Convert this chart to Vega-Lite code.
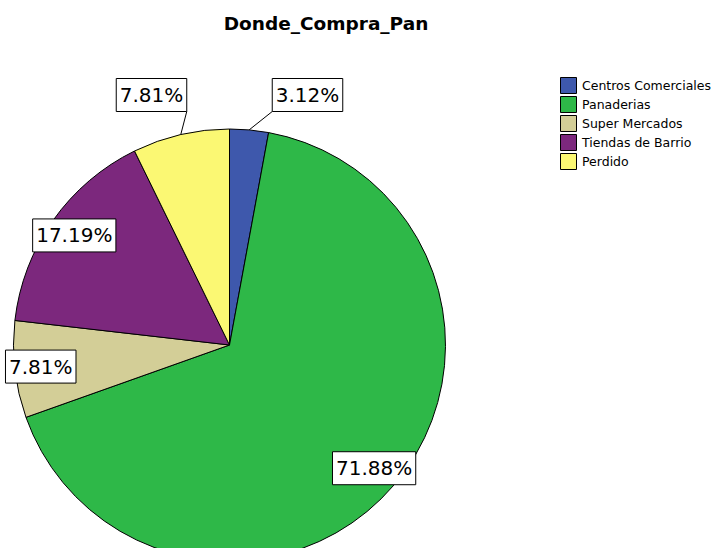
{
  "$schema": "https://vega.github.io/schema/vega-lite/v6.json",
  "width": 717,
  "height": 508,
  "autosize": {"type": "none"},
  "padding": {"top": 40, "left": 0, "right": 0, "bottom": 0},
  "background": "white",
  "title": {
    "text": "Donde_Compra_Pan",
    "font": "DejaVu Sans",
    "fontSize": 18.5,
    "fontWeight": "bold",
    "color": "black",
    "anchor": "middle",
    "frame": "group",
    "dx": -32.5,
    "dy": 18,
    "baseline": "alphabetic",
    "offset": 10
  },
  "config": {
    "view": {"stroke": null},
    "legend": {
      "orient": "none",
      "legendX": 560,
      "legendY": 37,
      "padding": 0,
      "symbolType": "square",
      "symbolSize": 256,
      "symbolStrokeColor": "black",
      "symbolStrokeWidth": 1,
      "symbolOpacity": 1,
      "labelFont": "DejaVu Sans",
      "labelFontSize": 12.5,
      "labelColor": "black",
      "labelOffset": 5,
      "rowPadding": -2,
      "labelLimit": 300
    }
  },
  "data": {
    "values": [
      {"cat": "Centros Comerciales", "n": 2, "label": "3.12%"},
      {"cat": "Panaderias", "n": 46, "label": "71.88%"},
      {"cat": "Super Mercados", "n": 5, "label": "7.81%"},
      {"cat": "Tiendas de Barrio", "n": 11, "label": "17.19%"},
      {"cat": "Perdido", "n": 5, "label": "7.81%"}
    ]
  },
  "transform": [
    {"joinaggregate": [{"op": "sum", "field": "n", "as": "total"}]},
    {"window": [{"op": "sum", "field": "n", "as": "cum"}], "frame": [null, 0]},
    {"calculate": "2*PI*(datum.cum - datum.n)/datum.total", "as": "a0"},
    {"calculate": "2*PI*datum.cum/datum.total", "as": "a1"},
    {"calculate": "(datum.a0 + datum.a1)/2", "as": "am"},
    {"calculate": "datum.n/datum.total < 0.1 && cos(datum.am) > 0.5", "as": "outer"},
    {"calculate": "datum.outer ? (sin(datum.am) >= 0 ? 1 : -1) * 78 : 190*sin(datum.am)", "as": "lx"},
    {"calculate": "datum.outer ? 250 : 190*cos(datum.am)", "as": "ly"},
    {"calculate": "(20*(0.636*(length(datum.label)-2)+1.268) + 7)/2", "as": "hw"},
    {"calculate": "datum.lx - datum.hw", "as": "bx0"},
    {"calculate": "datum.lx + datum.hw", "as": "bx1"},
    {"calculate": "datum.ly - 16.5", "as": "by0"},
    {"calculate": "datum.ly + 16.5", "as": "by1"},
    {"calculate": "216*sin(datum.am)", "as": "ex"},
    {"calculate": "216*cos(datum.am)", "as": "ey"},
    {"calculate": "datum.lx - (sin(datum.am) >= 0 ? 1 : -1)*datum.hw", "as": "cx"}
  ],
  "layer": [
    {
      "mark": {"type": "arc", "outerRadius": 216, "stroke": "black", "strokeWidth": 1},
      "encoding": {
        "x": {"datum": 0, "type": "quantitative", "scale": {"domain": [-229.5, 487.5], "nice": false, "zero": false}, "axis": null},
        "y": {"datum": 0, "type": "quantitative", "scale": {"domain": [-203, 305], "nice": false, "zero": false}, "axis": null},
        "theta": {"field": "a0", "type": "quantitative", "scale": null, "stack": null},
        "theta2": {"field": "a1"},
        "color": {
          "field": "cat",
          "type": "nominal",
          "title": null,
          "scale": {
            "domain": ["Centros Comerciales", "Panaderias", "Super Mercados", "Tiendas de Barrio", "Perdido"],
            "range": ["#3E58AC", "#2EB848", "#D3CE97", "#7C287D", "#FBF873"]
          }
        }
      }
    },
    {
      "transform": [{"filter": "datum.outer"}],
      "mark": {"type": "rule", "stroke": "black", "strokeWidth": 1},
      "encoding": {
        "x": {"field": "ex", "type": "quantitative", "scale": {"domain": [-229.5, 487.5], "nice": false, "zero": false}, "axis": null},
        "y": {"field": "ey", "type": "quantitative", "scale": {"domain": [-203, 305], "nice": false, "zero": false}, "axis": null},
        "x2": {"field": "cx"},
        "y2": {"field": "by0"}
      }
    },
    {
      "mark": {"type": "rect", "fill": "white", "stroke": "black", "strokeWidth": 1},
      "encoding": {
        "x": {"field": "bx0", "type": "quantitative", "scale": {"domain": [-229.5, 487.5], "nice": false, "zero": false}, "axis": null},
        "x2": {"field": "bx1"},
        "y": {"field": "by0", "type": "quantitative", "scale": {"domain": [-203, 305], "nice": false, "zero": false}, "axis": null},
        "y2": {"field": "by1"}
      }
    },
    {
      "mark": {"type": "text", "font": "DejaVu Sans", "fontSize": 20, "color": "black", "align": "center", "baseline": "middle", "dy": 1},
      "encoding": {
        "x": {"field": "lx", "type": "quantitative", "scale": {"domain": [-229.5, 487.5], "nice": false, "zero": false}, "axis": null},
        "y": {"field": "ly", "type": "quantitative", "scale": {"domain": [-203, 305], "nice": false, "zero": false}, "axis": null},
        "text": {"field": "label"}
      }
    }
  ]
}
